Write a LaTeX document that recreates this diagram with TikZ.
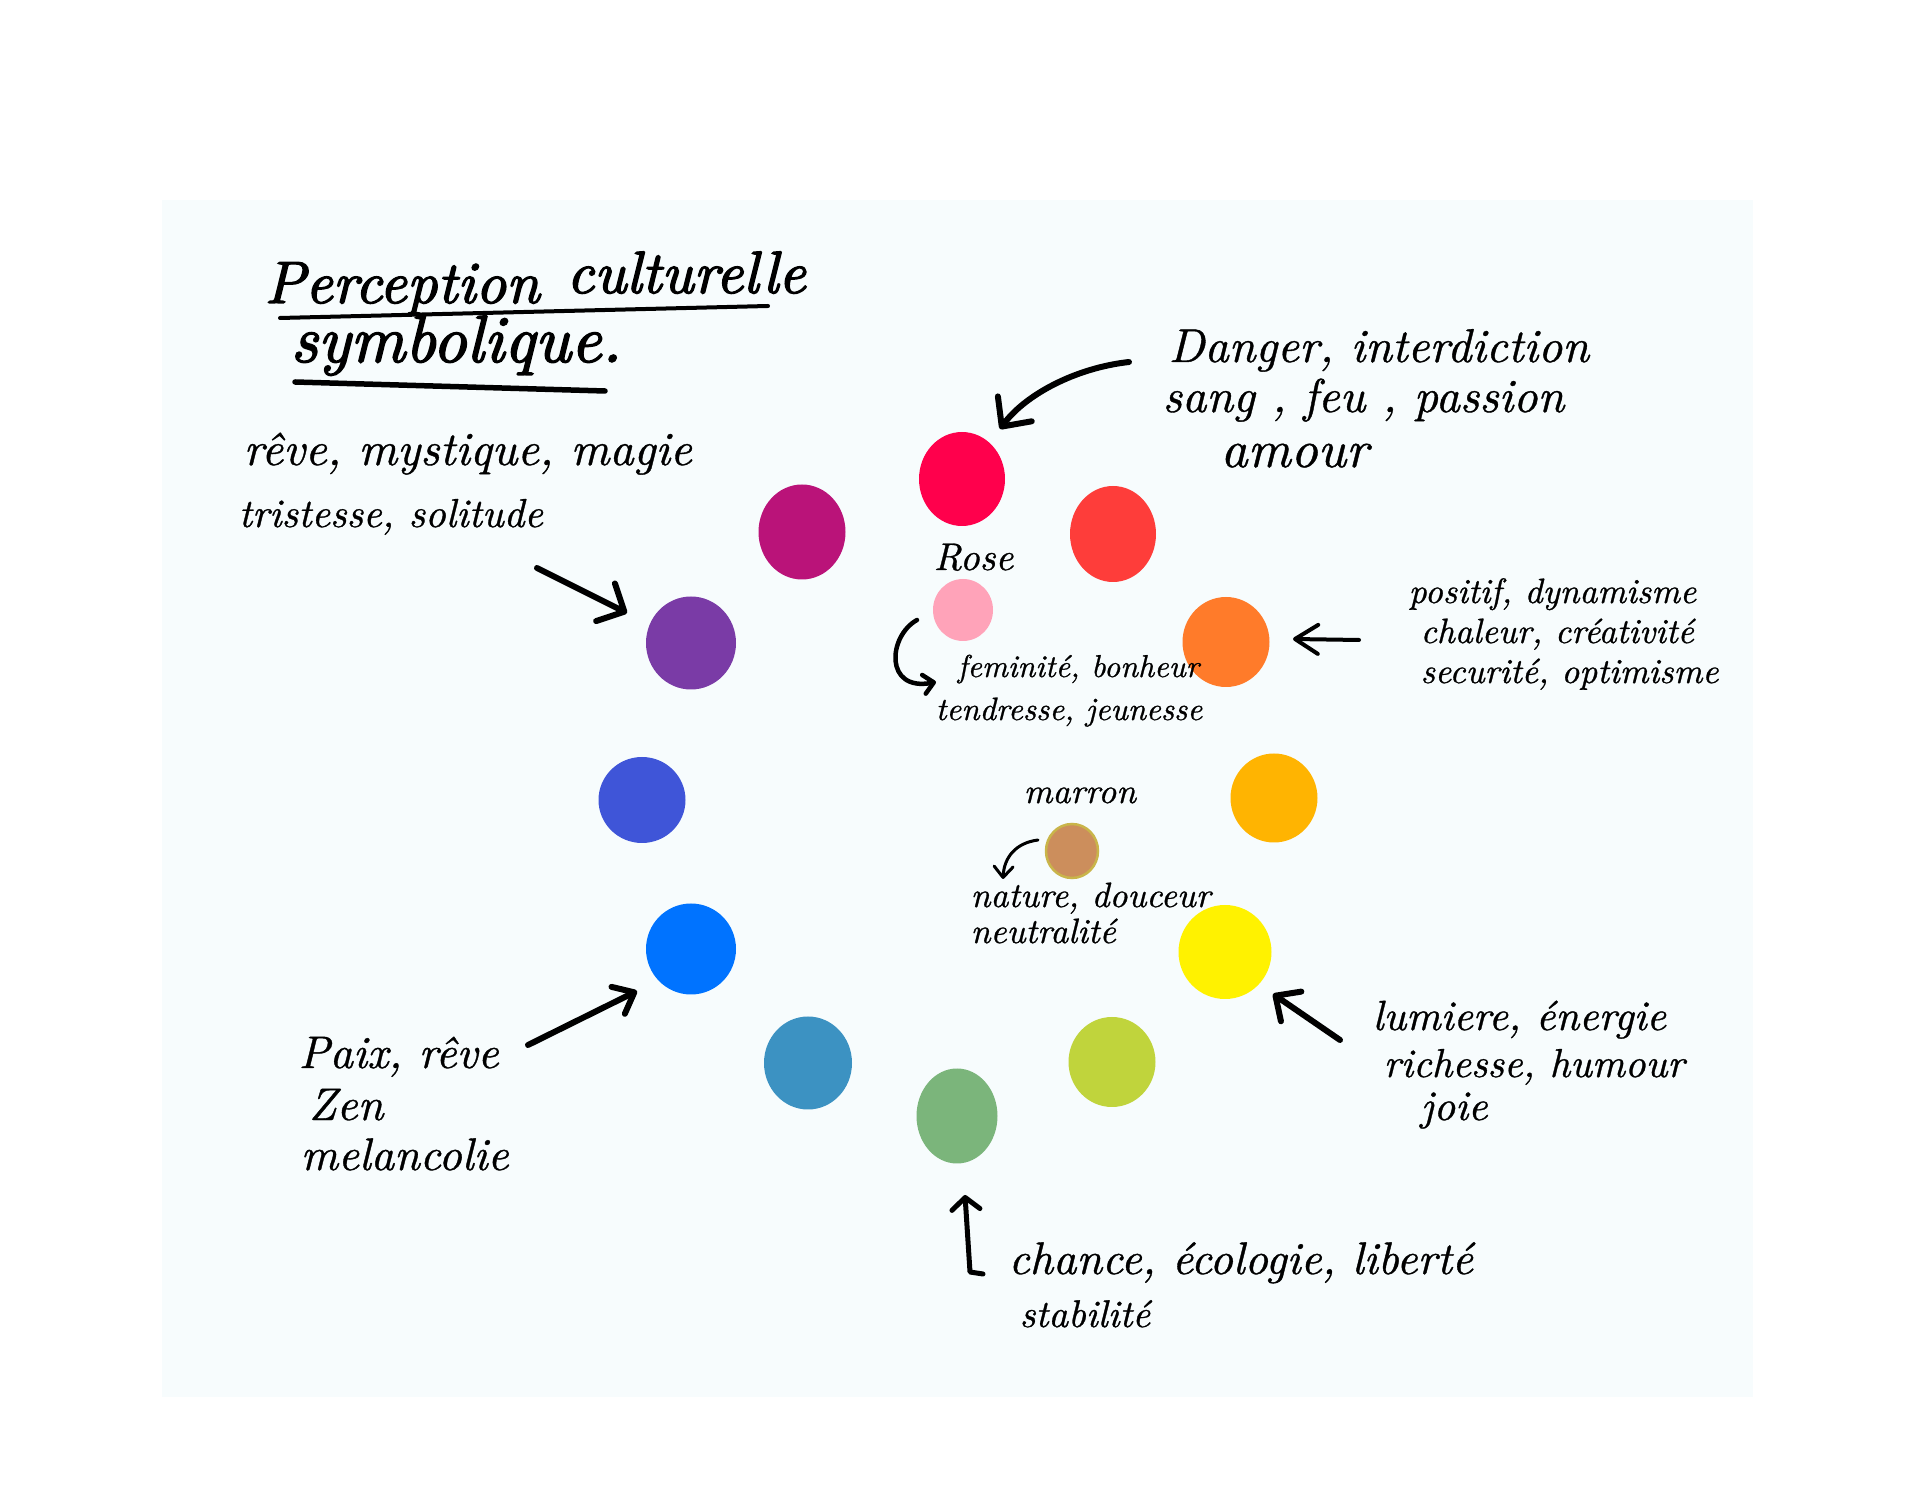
\documentclass[tikz,border=0pt]{standalone}
\usepackage{fontspec}
\usepackage{graphicx}
\usetikzlibrary{shapes.geometric,arrows.meta}
\newfontfamily\hand[FakeBold=0.8]{lmroman10-italic.otf}
\newfontfamily\ttlhand[FakeBold=2.2]{lmroman10-italic.otf}
\definecolor{cBg}{HTML}{F7FCFD}
\definecolor{cCrimson}{HTML}{FF004C}
\definecolor{cMagenta}{HTML}{BA1379}
\definecolor{cRedOr}{HTML}{FE3D3A}
\definecolor{cPink}{HTML}{FFA3B9}
\definecolor{cPurple}{HTML}{7A3BA6}
\definecolor{cOrange}{HTML}{FF7B2A}
\definecolor{cRoyal}{HTML}{3F55D8}
\definecolor{cAmber}{HTML}{FFB401}
\definecolor{cBrown}{HTML}{CC8E5C}
\definecolor{cBrownEdge}{HTML}{C9B54A}
\definecolor{cBlue}{HTML}{0073FF}
\definecolor{cYellow}{HTML}{FFF200}
\definecolor{cTeal}{HTML}{3C92C2}
\definecolor{cLime}{HTML}{C0D43C}
\definecolor{cGreen}{HTML}{7BB57B}
\newcommand\fs[1]{\fontsize{#1}{#1}\selectfont}
\begin{document}
\begin{tikzpicture}[x=0.1mm,y=-0.1mm,
  blob/.style={ellipse, inner sep=0pt, draw=none},
  txt/.style={anchor=base west, inner sep=0pt, font=\hand},
  ttl/.style={anchor=base west, inner sep=0pt, font=\ttlhand},
  pen/.style={line width=0.6mm, line cap=round, line join=round},
]
\useasboundingbox (0,0) rectangle (1920,1512);
\fill[white] (0,0) rectangle (1920,1512);
\fill[cBg] (162,200) rectangle (1753,1397);

% ---- colour dots
\node[blob, fill=cCrimson, minimum width=8.6mm, minimum height=9.4mm] (crimson) at (962,479) {};
\node[blob, fill=cRedOr,   minimum width=8.6mm, minimum height=9.6mm] (redor)   at (1113,534) {};
\node[blob, fill=cOrange,  minimum width=8.7mm, minimum height=9.0mm] (orange)  at (1226,642) {};
\node[blob, fill=cAmber,   minimum width=8.7mm, minimum height=8.9mm] (amber)   at (1274,798) {};
\node[blob, fill=cYellow,  minimum width=9.3mm, minimum height=9.4mm] (yellow)  at (1225,952) {};
\node[blob, fill=cLime,    minimum width=8.7mm, minimum height=9.0mm] (lime)    at (1112,1062) {};
\node[blob, fill=cGreen,   minimum width=8.1mm, minimum height=9.5mm] (green)   at (957,1116) {};
\node[blob, fill=cTeal,    minimum width=8.8mm, minimum height=9.3mm] (teal)    at (808,1063) {};
\node[blob, fill=cBlue,    minimum width=9.0mm, minimum height=9.1mm] (blue)    at (691,949) {};
\node[blob, fill=cRoyal,   minimum width=8.7mm, minimum height=8.6mm] (royal)   at (642,800) {};
\node[blob, fill=cPurple,  minimum width=9.0mm, minimum height=9.3mm] (purple)  at (691,643) {};
\node[blob, fill=cMagenta, minimum width=8.7mm, minimum height=9.5mm] (magenta) at (802,532) {};
\node[blob, fill=cPink,    minimum width=6.0mm, minimum height=6.2mm] (pink)    at (963,610) {};
\node[blob, fill=cBrown, draw=cBrownEdge, line width=0.25mm, minimum width=5.2mm, minimum height=5.4mm] (brown) at (1072,851) {};

% ---- title
\node[ttl] (t1a) at (264,303) {\fs{17}Perception};
\node[ttl] (t1b) at (566,293) {\fs{17}culturelle};
\node[ttl] (t2) at (290,362) {\fs{19}symbolique.};
\coordinate (u1a) at (280,318); \coordinate (u1b) at (768,306);
\coordinate (u2a) at (295,382); \coordinate (u2b) at (605,391);
\draw[line width=0.4mm, line cap=round] (u1a) -- (u1b);
\draw[line width=0.55mm, line cap=round] (u2a) -- (u2b);

% ---- red
\node[txt] (r1) at (1168,362) {\fs{13.5}Danger, interdiction};
\node[txt] (r2) at (1162,412) {\fs{13.5}sang , feu , passion};
\node[txt] (r3) at (1220,467) {\fs{15}amour};
\coordinate (ra) at (1129,362); \coordinate (rb) at (1000,429);
\draw[pen, -{Straight Barb[length=2.2mm, width=4.2mm, round]}] (ra) .. controls (1075,368) and (1025,395) .. (rb);

% ---- purple
\node[txt] (p1) at (243,465) {\fs{13.5}rêve, mystique, magie};
\node[txt] (p2) at (238,527) {\fs{11.5}tristesse, solitude};
\coordinate (pa) at (537,568); \coordinate (pb) at (627,613);
\draw[pen, -{Straight Barb[length=2.1mm, width=4.2mm, round]}] (pa) -- (pb);

% ---- pink
\node[txt] (k0) at (933,570) {\fs{11}Rose};
\node[txt] (k1) at (957,677) {\fs{9}feminité, bonheur};
\node[txt] (k2) at (935,720) {\fs{9.2}tendresse, jeunesse};
\coordinate (ka) at (917,620); \coordinate (kb) at (936,682);
\draw[line width=0.45mm, line cap=round, -{Straight Barb[length=1.0mm, width=1.9mm, round]}] (ka) .. controls (888,636) and (884,692) .. (kb);

% ---- orange
\node[txt] (o1) at (1408,603) {\fs{10}positif, dynamisme};
\node[txt] (o2) at (1420,643) {\fs{10}chaleur, créativité};
\node[txt] (o3) at (1420,683) {\fs{10}securité, optimisme};
\coordinate (oa) at (1359,640); \coordinate (ob) at (1293,639);
\draw[line width=0.4mm, line cap=round, -{Straight Barb[length=2.3mm, width=2.9mm, round]}] (oa) -- (ob);

% ---- brown
\node[txt] (b0) at (1023,803) {\fs{10}marron};
\node[txt] (b1) at (970,907) {\fs{10}nature, douceur};
\node[txt] (b2) at (970,943) {\fs{10}neutralité};
\coordinate (ba) at (1038,840); \coordinate (bb) at (1003,879);
\draw[line width=0.3mm, line cap=round, -{Straight Barb[length=1.1mm, width=1.9mm, round]}] (ba) .. controls (1015,843) and (1004,858) .. (bb);

% ---- yellow
\node[txt] (y1) at (1372,1030) {\fs{12}lumiere, énergie};
\node[txt] (y2) at (1383,1077) {\fs{11.5}richesse, humour};
\node[txt] (y3) at (1420,1120) {\fs{12}joie};
\coordinate (ya) at (1340,1040); \coordinate (yb) at (1273,994);
\draw[pen, -{Straight Barb[length=1.9mm, width=3.6mm, round]}] (ya) -- (yb);

% ---- blue
\node[txt] (l1) at (298,1068) {\fs{13}Paix, rêve};
\node[txt] (l2) at (308,1120) {\fs{13}Zen};
\node[txt] (l3) at (300,1170) {\fs{13}melancolie};
\coordinate (la) at (528,1045); \coordinate (lb) at (637,991);
\draw[pen, -{Straight Barb[length=1.8mm, width=3mm, round]}] (la) -- (lb);

% ---- green
\node[txt] (g1) at (1008,1274) {\fs{13}chance, écologie, liberté};
\node[txt] (g2) at (1019,1327) {\fs{11}stabilité};
\coordinate (ga) at (983,1274); \coordinate (gm) at (970,1272); \coordinate (gb) at (965,1195);
\draw[line width=0.5mm, line cap=round, line join=round, -{Straight Barb[length=1.2mm, width=2.8mm, round]}] (ga) -- (gm) -- (gb);
\end{tikzpicture}
\end{document}
